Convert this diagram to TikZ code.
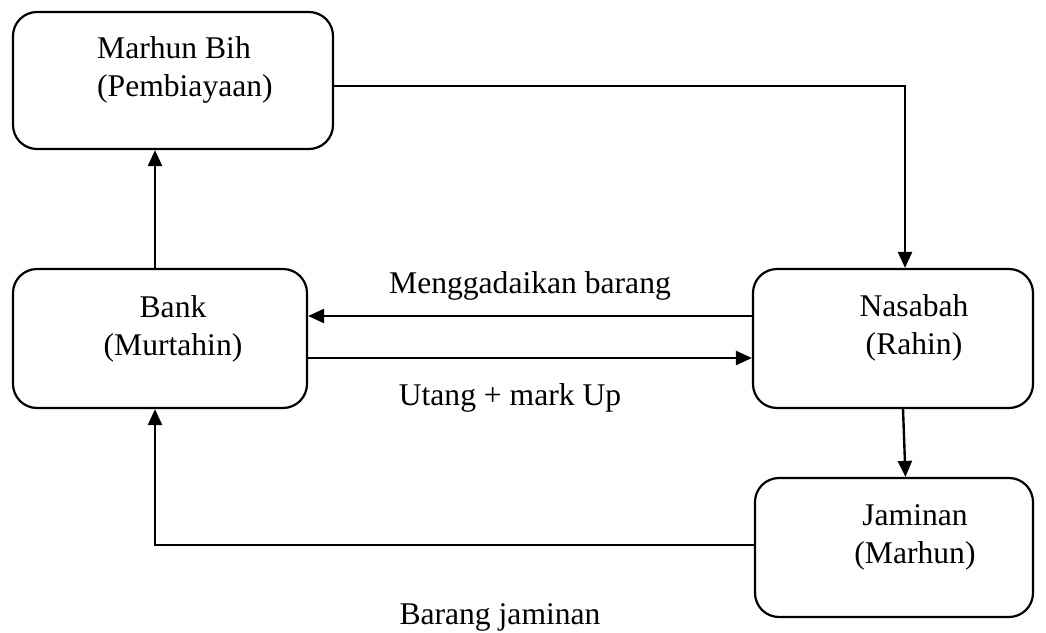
\documentclass[tikz,border=0pt]{standalone}
\usepackage{fontspec}
\setmainfont{Liberation Serif}
\usetikzlibrary{arrows.meta}
\begin{document}
\begin{tikzpicture}[x=1pt,y=-1pt,
  box/.style={draw, line width=2.2pt, rounded corners=24pt, inner sep=0pt},
  lbl/.style={inner sep=0pt, anchor=base, font=\fontsize{31.6}{38}\selectfont},
  conn/.style={line width=2.4pt, -{Triangle[length=16pt,width=14pt]}}]
\useasboundingbox (0,0) rectangle (1046,632);
% boxes
\node[box, minimum width=320pt, minimum height=137pt] (mb) at (173,80.5) {};
\node[box, minimum width=294pt, minimum height=139pt] (bank) at (160,338.5) {};
\node[box, minimum width=280pt, minimum height=139pt] (nas) at (893,338.5) {};
\node[box, minimum width=278pt, minimum height=139pt] (jam) at (894,547.5) {};
% box texts
\node[lbl, anchor=base west] (mbt1) at (97,58) {Marhun Bih};
\node[lbl, anchor=base west] (mbt2) at (97,96) {(Pembiayaan)};
\node[lbl] (bt1) at (173,317) {Bank};
\node[lbl] (bt2) at (173,355) {(Murtahin)};
\node[lbl] (nt1) at (914,316) {Nasabah};
\node[lbl] (nt2) at (914,354) {(Rahin)};
\node[lbl] (jt1) at (915,525) {Jaminan};
\node[lbl] (jt2) at (915,563) {(Marhun)};
% edge labels
\node[lbl] (l1) at (530,293) {Menggadaikan barang};
\node[lbl] (l2) at (510,405) {Utang + mark Up};
\node[lbl] (l3) at (500,624) {Barang jaminan};
% helper coordinates
\coordinate (b1) at ([xshift=-5pt]bank.north);
\coordinate (b2) at ([xshift=-5pt]bank.south);
\coordinate (m1) at ([yshift=-5.5pt]mb.east);
\coordinate (n1) at ([xshift=12pt]nas.north);
% connectors
\draw[conn] (b1) -- (b1 |- mb.south);
\draw[conn] (m1) -| (n1);
\draw[conn] ([yshift=22.5pt]nas.west) -- ([yshift=22.5pt]bank.east);
\draw[conn] ([yshift=-19.5pt]bank.east) -- ([yshift=-19.5pt]nas.west);
\draw[conn] ([xshift=10pt]nas.south) -- ([xshift=11.5pt]jam.north);
\draw[conn] ([yshift=2.5pt]jam.west) -| (b2);
\end{tikzpicture}
\end{document}
